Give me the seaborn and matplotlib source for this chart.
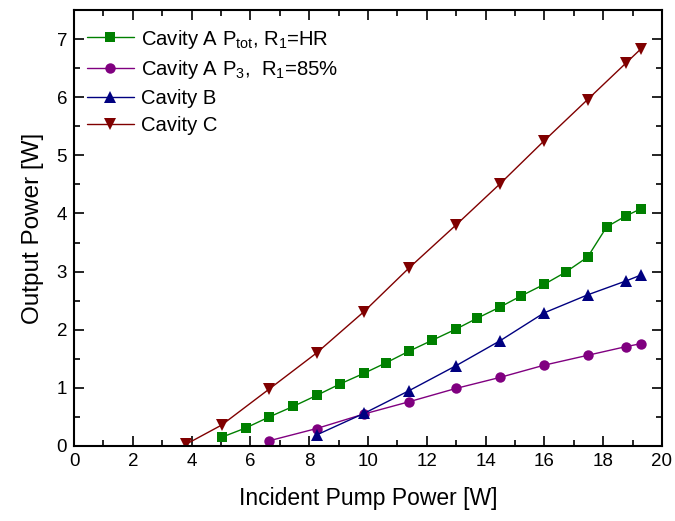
import numpy as np
import pandas as pd
import seaborn as sns
import matplotlib.pyplot as plt
from matplotlib.ticker import MultipleLocator

# data
a_tot_x = [5.02, 5.84, 6.64, 7.45, 8.25, 9.06, 9.86, 10.61, 11.39, 12.19, 12.99,
           13.72, 14.49, 15.2, 15.99, 16.72, 17.47, 18.12, 18.78, 19.28]
a_tot_y = [0.15, 0.31, 0.50, 0.68, 0.87, 1.07, 1.25, 1.43, 1.63, 1.82, 2.01,
           2.20, 2.39, 2.58, 2.78, 2.99, 3.25, 3.77, 3.96, 4.08]

a_p3_x = [6.64, 8.25, 9.86, 11.39, 12.99, 14.49, 15.99, 17.47, 18.78, 19.28]
a_p3_y = [0.09, 0.30, 0.55, 0.76, 0.99, 1.18, 1.39, 1.56, 1.71, 1.76]

b_x = [8.25, 9.86, 11.39, 12.99, 14.49, 15.99, 17.47, 18.78, 19.28]
b_y = [0.19, 0.56, 0.95, 1.38, 1.81, 2.29, 2.60, 2.84, 2.94]

c_x = [3.81, 5.02, 6.64, 8.25, 9.86, 11.39, 12.99, 14.49, 15.99, 17.47, 18.78, 19.28]
c_y = [0.03, 0.36, 0.98, 1.60, 2.31, 3.06, 3.80, 4.51, 5.25, 5.96, 6.59, 6.83]

labels = [r'Cavity A P$_{\mathrm{tot}}$, R$_1$=HR',
          r'Cavity A P$_3$,  R$_1$=85%',
          'Cavity B',
          'Cavity C']

sns.set_style('ticks')
plt.rcParams['font.family'] = ['Liberation Sans', 'DejaVu Sans']
plt.rcParams['mathtext.fontset'] = 'custom'
plt.rcParams['mathtext.rm'] = 'Liberation Sans'
plt.rcParams['mathtext.it'] = 'Liberation Sans:italic'
plt.rcParams['text.color'] = 'black'
plt.rcParams['axes.labelcolor'] = 'black'
plt.rcParams['xtick.color'] = 'black'
plt.rcParams['ytick.color'] = 'black'
plt.rcParams['axes.edgecolor'] = 'black'

fig = plt.figure(figsize=(6.75, 5.21), dpi=100)
ax = fig.add_axes([74 / 675, 1 - 446 / 521, 588 / 675, 436 / 521])

series = [
    (a_tot_x, a_tot_y, 's', 7, '#008000', labels[0]),
    (a_p3_x, a_p3_y, 'o', 7.5, '#800080', labels[1]),
    (b_x, b_y, '^', 8.5, '#000080', labels[2]),
    (c_x, c_y, 'v', 8.5, '#800000', labels[3]),
]
for x, y, m, ms, col, lab in series:
    df = pd.DataFrame({'x': x, 'y': y})
    sns.lineplot(data=df, x='x', y='y', marker=m, color=col, label=lab,
                 linewidth=1.0, markersize=ms, markeredgewidth=0, ax=ax)

ax.set_xlim(0, 20)
ax.set_ylim(0, 7.5)
ax.xaxis.set_major_locator(MultipleLocator(2))
ax.xaxis.set_minor_locator(MultipleLocator(1))
ax.yaxis.set_major_locator(MultipleLocator(1))
ax.yaxis.set_minor_locator(MultipleLocator(0.5))
ax.tick_params(which='both', direction='in', top=True, right=True, width=1.2,
               labelsize=13.5)
ax.tick_params(which='major', length=7, pad=5)
ax.tick_params(which='minor', length=4)
for s in ax.spines.values():
    s.set_linewidth(1.5)
    s.set_visible(True)

ax.set_xlabel('Incident Pump Power [W]', fontsize=16.5, labelpad=12)
ax.set_ylabel('Output Power [W]', fontsize=17.5, labelpad=9)

ax.legend(loc='upper left', bbox_to_anchor=(0, 0.99), frameon=False,
          fontsize=14.6, handlelength=2.3, handletextpad=0.35,
          labelspacing=0.38, borderaxespad=0.3, borderpad=0.35)

fig.savefig('out.png', dpi=100)
